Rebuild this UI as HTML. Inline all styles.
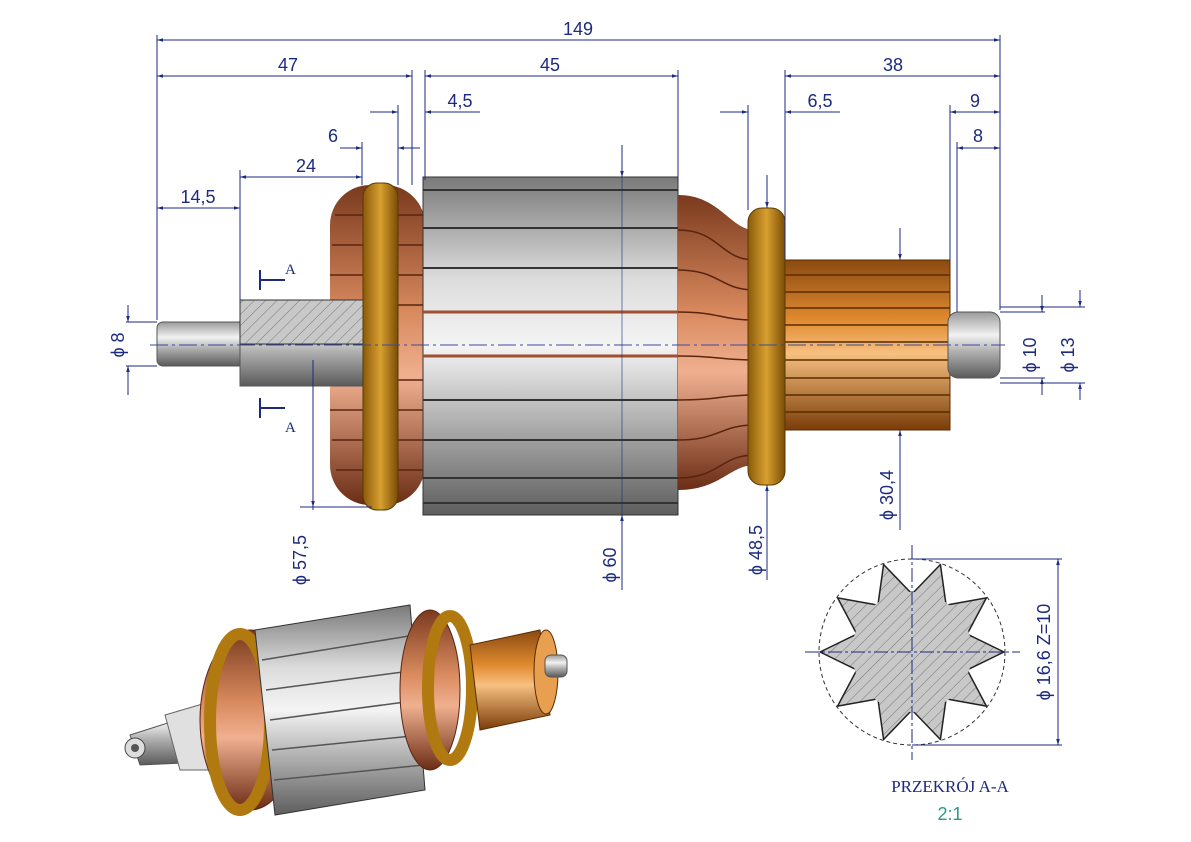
<!DOCTYPE html>
<html><head><meta charset="utf-8"><style>
html,body{margin:0;padding:0;background:#fff}
svg{display:block}
text{font-family:"Liberation Sans",sans-serif;fill:#1c2a80;font-size:18px}
</style></head><body>
<svg width="1191" height="842" viewBox="0 0 1191 842" xmlns="http://www.w3.org/2000/svg">
<defs>
<linearGradient id="steel" x1="0" y1="0" x2="0" y2="1">
<stop offset="0" stop-color="#9a9a9a"/><stop offset=".35" stop-color="#f2f2f2"/><stop offset=".6" stop-color="#b0b0b0"/><stop offset="1" stop-color="#5a5a5a"/></linearGradient>
<linearGradient id="core" x1="0" y1="0" x2="0" y2="1">
<stop offset="0" stop-color="#7a7a7a"/><stop offset=".3" stop-color="#dcdcdc"/><stop offset=".5" stop-color="#f4f4f4"/><stop offset=".75" stop-color="#a8a8a8"/><stop offset="1" stop-color="#5e5e5e"/></linearGradient>
<linearGradient id="cu" x1="0" y1="0" x2="0" y2="1">
<stop offset="0" stop-color="#7a3a1e"/><stop offset=".4" stop-color="#d98a5e"/><stop offset=".6" stop-color="#f0b090"/><stop offset="1" stop-color="#6a2c14"/></linearGradient>
<linearGradient id="comm" x1="0" y1="0" x2="0" y2="1">
<stop offset="0" stop-color="#8a4a10"/><stop offset=".35" stop-color="#e08a30"/><stop offset=".55" stop-color="#f7c080"/><stop offset="1" stop-color="#7a3c08"/></linearGradient>
<linearGradient id="gold" x1="0" y1="0" x2="1" y2="0">
<stop offset="0" stop-color="#8a5a08"/><stop offset=".5" stop-color="#d8a030"/><stop offset="1" stop-color="#7a4c06"/></linearGradient>
<pattern id="hatch" width="8" height="8" patternUnits="userSpaceOnUse" patternTransform="rotate(45)">
<rect width="8" height="8" fill="#c8c8c8"/><line x1="0" y1="0" x2="0" y2="8" stroke="#777" stroke-width="1"/></pattern>
<marker id="ar" viewBox="0 0 10 10" refX="10" refY="5" markerWidth="10" markerHeight="6" orient="auto-start-reverse"><path d="M0,2 L10,5 L0,8z" fill="#1c2a80"/></marker>
</defs>

<rect x="330" y="185" width="95" height="320" rx="40" fill="url(#cu)"/>
<g stroke="#5a2410" stroke-width="1.5" fill="none">
<path d="M335 215H425M332 245H425M330 275H425M330 305H425M330 380H425M330 410H425M332 440H425M336 470H425"/>
</g>
<rect x="157" y="322" width="90" height="44" rx="6" fill="url(#steel)" stroke="#555"/>
<rect x="240" y="300" width="140" height="86" fill="url(#steel)" stroke="#555"/>
<rect x="240" y="300" width="140" height="44" fill="url(#hatch)" stroke="#333"/>
<rect x="363" y="183" width="35" height="327" rx="14" fill="url(#gold)" stroke="#5a3a00"/>
<rect x="423" y="177" width="255" height="338" fill="url(#core)" stroke="#333"/>
<g stroke="#333" stroke-width="2">
<path d="M423 190H678M423 228H678M423 268H678M423 312H678M423 356H678M423 400H678M423 440H678M423 478H678M423 503H678"/>
</g>
<g stroke="#a05030" stroke-width="3"><path d="M423 312H678M423 356H678"/></g>
<path d="M678 195 C720 195 730 230 755 230 V465 C730 465 720 490 678 490Z" fill="url(#cu)"/>
<g stroke="#5a2410" stroke-width="1.5" fill="none">
<path d="M678 230C720 230 720 260 755 260M678 270C720 270 720 290 755 290M678 312C720 312 720 320 755 320M678 356C720 356 720 360 755 360M678 400C720 400 720 395 755 395M678 440C720 440 720 425 755 425M678 478C720 478 720 455 755 455"/>
</g>
<rect x="785" y="260" width="165" height="170" fill="url(#comm)" stroke="#5a2c00"/>
<g stroke="#5a2c00" stroke-width="1.5"><path d="M785 275H950M785 292H950M785 308H950M785 325H950M785 342H950M785 360H950M785 378H950M785 395H950M785 412H950"/></g>
<rect x="748" y="208" width="37" height="277" rx="14" fill="url(#gold)" stroke="#5a3a00"/>
<rect x="948" y="312" width="52" height="66" rx="10" fill="url(#steel)" stroke="#555"/>
<line x1="150" y1="345" x2="1005" y2="345" stroke="#3a4a9a" stroke-dasharray="18,4,3,4" stroke-width="1"/>

<g stroke="#1c2a80" stroke-width="1" fill="none">
<path d="M157 35V320M1000 35V310M412 70V185M425 70V180M678 70V180M785 70V260M398 105V185M748 105V210M950 105V262M957 142V312M362 142V185M240 170V300M313 360V510"/>
<line x1="157" y1="40" x2="1000" y2="40" marker-start="url(#ar)" marker-end="url(#ar)"/>
<line x1="157" y1="76" x2="412" y2="76" marker-start="url(#ar)" marker-end="url(#ar)"/>
<line x1="425" y1="76" x2="678" y2="76" marker-start="url(#ar)" marker-end="url(#ar)"/>
<line x1="785" y1="76" x2="1000" y2="76" marker-start="url(#ar)" marker-end="url(#ar)"/>
<line x1="370" y1="112" x2="398" y2="112" marker-end="url(#ar)"/>
<line x1="480" y1="112" x2="425" y2="112" marker-end="url(#ar)"/>
<line x1="720" y1="112" x2="748" y2="112" marker-end="url(#ar)"/>
<line x1="840" y1="112" x2="785" y2="112" marker-end="url(#ar)"/>
<line x1="950" y1="112" x2="1000" y2="112" marker-start="url(#ar)" marker-end="url(#ar)"/>
<line x1="957" y1="148" x2="1000" y2="148" marker-start="url(#ar)" marker-end="url(#ar)"/>
<line x1="340" y1="148" x2="362" y2="148" marker-end="url(#ar)"/>
<line x1="420" y1="148" x2="398" y2="148" marker-end="url(#ar)"/>
<line x1="240" y1="177" x2="362" y2="177" marker-start="url(#ar)" marker-end="url(#ar)"/>
<line x1="157" y1="208" x2="240" y2="208" marker-start="url(#ar)" marker-end="url(#ar)"/>
<line x1="126" y1="322" x2="157" y2="322"/><line x1="126" y1="366" x2="157" y2="366"/>
<line x1="128" y1="305" x2="128" y2="322" marker-end="url(#ar)"/><line x1="128" y1="395" x2="128" y2="366" marker-end="url(#ar)"/>
<line x1="300" y1="507" x2="372" y2="507"/>
<line x1="313" y1="450" x2="313" y2="507" marker-end="url(#ar)"/>
<line x1="622" y1="145" x2="622" y2="177" marker-end="url(#ar)"/>
<line x1="622" y1="590" x2="622" y2="515" marker-end="url(#ar)"/>
<line x1="622" y1="177" x2="622" y2="515" stroke-width=".6"/>
<line x1="767" y1="175" x2="767" y2="208" marker-end="url(#ar)"/>
<line x1="767" y1="580" x2="767" y2="485" marker-end="url(#ar)"/>
<line x1="900" y1="228" x2="900" y2="260" marker-end="url(#ar)"/>
<line x1="900" y1="530" x2="900" y2="430" marker-end="url(#ar)"/>
<line x1="1000" y1="312" x2="1045" y2="312"/><line x1="1000" y1="378" x2="1045" y2="378"/>
<line x1="1042" y1="295" x2="1042" y2="312" marker-end="url(#ar)"/><line x1="1042" y1="395" x2="1042" y2="378" marker-end="url(#ar)"/>
<line x1="1000" y1="307" x2="1085" y2="307"/><line x1="1000" y1="383" x2="1085" y2="383"/>
<line x1="1080" y1="290" x2="1080" y2="307" marker-end="url(#ar)"/><line x1="1080" y1="400" x2="1080" y2="383" marker-end="url(#ar)"/>
<path d="M260 280H285M260 270V290M260 408H285M260 398V418" stroke-width="2"/>
</g>
<g>
<text x="578" y="35" text-anchor="middle">149</text>
<text x="288" y="71" text-anchor="middle">47</text>
<text x="550" y="71" text-anchor="middle">45</text>
<text x="893" y="71" text-anchor="middle">38</text>
<text x="460" y="107" text-anchor="middle">4,5</text>
<text x="820" y="107" text-anchor="middle">6,5</text>
<text x="975" y="107" text-anchor="middle">9</text>
<text x="978" y="142" text-anchor="middle">8</text>
<text x="333" y="142" text-anchor="middle">6</text>
<text x="306" y="172" text-anchor="middle">24</text>
<text x="198" y="203" text-anchor="middle">14,5</text>
<text x="285" y="274" style="font-family:'Liberation Serif',serif;font-size:15px">A</text>
<text x="285" y="432" style="font-family:'Liberation Serif',serif;font-size:15px">A</text>
<text transform="translate(124,345) rotate(-90)" text-anchor="middle">ϕ 8</text>
<text transform="translate(306,560) rotate(-90)" text-anchor="middle">ϕ 57,5</text>
<text transform="translate(616,565) rotate(-90)" text-anchor="middle">ϕ 60</text>
<text transform="translate(762,550) rotate(-90)" text-anchor="middle">ϕ 48,5</text>
<text transform="translate(893,495) rotate(-90)" text-anchor="middle">ϕ 30,4</text>
<text transform="translate(1036,355) rotate(-90)" text-anchor="middle">ϕ 10</text>
<text transform="translate(1074,355) rotate(-90)" text-anchor="middle">ϕ 13</text>
<text transform="translate(1050,652) rotate(-90)" text-anchor="middle">ϕ 16,6  Z=10</text>
</g>

<circle cx="912" cy="652" r="93" fill="none" stroke="#333" stroke-dasharray="4,3"/>
<polygon points="1004,652 967.2,634.1 986.4,597.9 946.1,605.1 940.4,564.5 912,594 883.6,564.5 877.9,605.1 837.6,597.9 856.8,634.1 820,652 856.8,669.9 837.6,706.1 877.9,698.9 883.6,739.5 912,710 940.4,739.5 946.1,698.9 986.4,706.1 967.2,669.9" fill="url(#hatch)" stroke="#222" stroke-width="1.5" stroke-linejoin="round"/>
<circle cx="912" cy="652" r="60" fill="url(#hatch)"/>
<g stroke="#1c2a80" stroke-width="1"><line x1="805" y1="652" x2="1020" y2="652" stroke-dasharray="14,3,3,3"/><line x1="912" y1="545" x2="912" y2="760" stroke-dasharray="14,3,3,3"/>
<path d="M912 559H1062M912 745H1062"/>
<line x1="1058" y1="580" x2="1058" y2="559" marker-end="url(#ar)"/><line x1="1058" y1="725" x2="1058" y2="745" marker-end="url(#ar)"/><line x1="1058" y1="559" x2="1058" y2="745"/></g>
<text x="950" y="792" text-anchor="middle" style="font-family:'Liberation Serif',serif;font-size:17px">PRZEKRÓJ A-A</text>
<text x="950" y="820" text-anchor="middle" style="fill:#2a9a8a;font-size:18px">2:1</text>

<g>
<path d="M130 735 L240 700 L250 760 L140 765Z" fill="url(#steel)" stroke="#555"/>
<circle cx="135" cy="748" r="10" fill="#ddd" stroke="#444"/>
<circle cx="135" cy="748" r="4" fill="#555"/>
<path d="M165 715 L250 690 L260 770 L180 770Z" fill="#e0e0e0" stroke="#666"/>
<ellipse cx="250" cy="720" rx="50" ry="90" fill="url(#cu)" stroke="#5a2410"/>
<ellipse cx="240" cy="722" rx="30" ry="88" fill="none" stroke="#b07a10" stroke-width="12"/>
<path d="M255 630 L410 605 L425 790 L275 815Z" fill="url(#core)" stroke="#333"/>
<g stroke="#555" stroke-width="1.5"><path d="M262 660L415 635M266 690L418 670M270 720L420 700M272 750L422 735M274 780L424 765"/></g>
<ellipse cx="430" cy="690" rx="30" ry="80" fill="url(#cu)" stroke="#5a2410"/>
<ellipse cx="450" cy="688" rx="22" ry="72" fill="none" stroke="#b07a10" stroke-width="12"/>
<path d="M470 645 L540 630 L550 715 L480 730Z" fill="url(#comm)" stroke="#5a2c00"/>
<ellipse cx="546" cy="672" rx="12" ry="42" fill="#e8a050" stroke="#5a2c00"/>
<rect x="545" y="655" width="22" height="22" rx="6" fill="url(#steel)" stroke="#555"/>
</g>
</svg>
</body></html>
